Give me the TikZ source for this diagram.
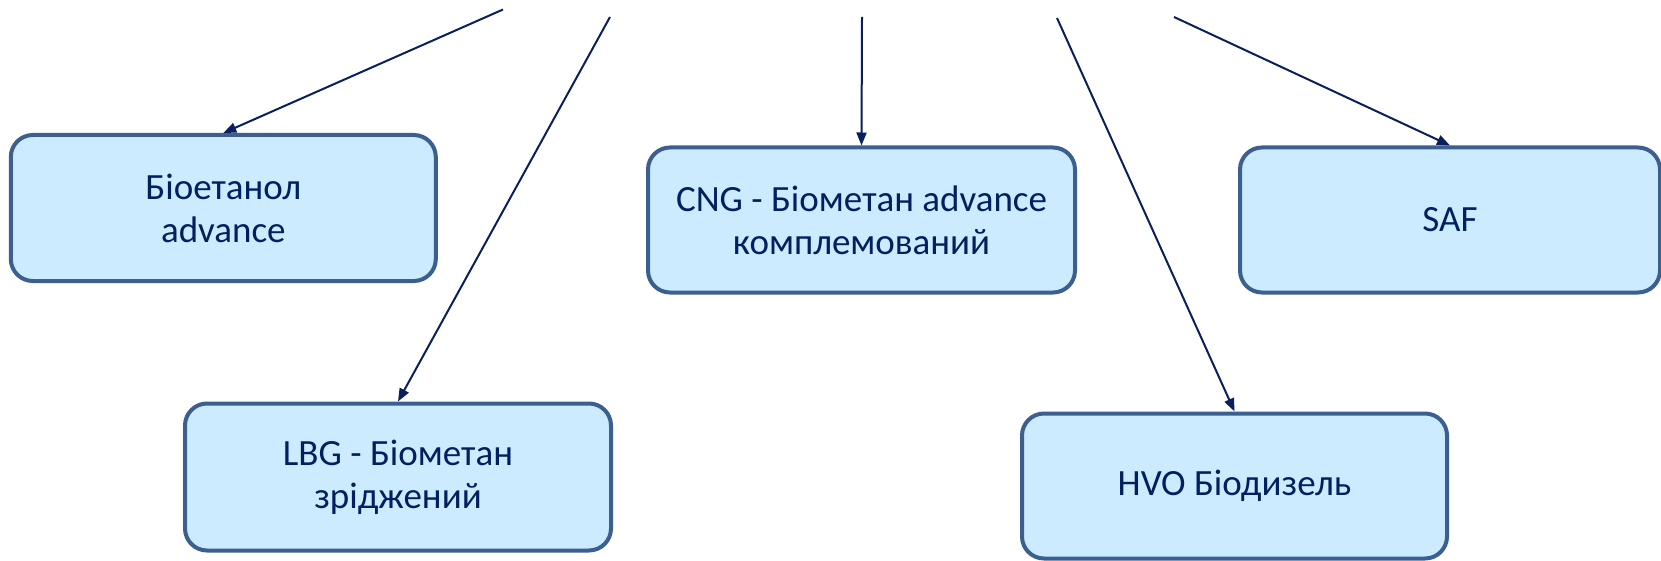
\documentclass[tikz,border=0pt]{standalone}
\usepackage{fontspec}
\setmainfont{Carlito}
\usetikzlibrary{arrows.meta}
\definecolor{boxfill}{HTML}{CCEBFF}
\definecolor{boxline}{HTML}{3B5F8E}
\definecolor{navy}{HTML}{0A1F5C}
\definecolor{txt}{HTML}{00205F}
\begin{document}
\begin{tikzpicture}[x=1pt,y=-1pt,
  boxnode/.style={draw=boxline, line width=4pt, fill=boxfill, rounded corners=22pt,
    text=txt, align=center, inner sep=0pt,
    font=\fontsize{37}{43}\selectfont},
  arr/.style={draw=navy, line width=2pt, -{Triangle[length=13pt,width=10pt]}}]
\useasboundingbox (0,0) rectangle (1661,561);
\node[boxnode, minimum width=425pt, minimum height=146pt] (b1) at (223.3,208) {Біоетанол\\advance};
\node[boxnode, minimum width=426pt, minimum height=147pt] (b2) at (398,477) {LBG - Біометан\\зріджений};
\node[boxnode, minimum width=427pt, minimum height=145pt] (b3) at (861.5,220) {CNG - Біометан advance\\комплемований};
\node[boxnode, minimum width=420pt, minimum height=145pt] (b4) at (1450,220) {SAF};
\node[boxnode, minimum width=425pt, minimum height=145pt] (b5) at (1234.5,486) {HVO Біодизель};
\coordinate (s1) at (503,9.5);
\coordinate (s2) at (610,17);
\coordinate (s3) at (862,17);
\coordinate (s4) at (1057,18);
\coordinate (s5) at (1174,17);
\draw[arr] (s1) -- (b1.north);
\draw[arr] (s2) -- (b2.north);
\draw[arr] (s3) -- (b3.north);
\draw[arr] (s4) -- (b5.north);
\draw[arr] (s5) -- (b4.north);
\end{tikzpicture}
\end{document}
